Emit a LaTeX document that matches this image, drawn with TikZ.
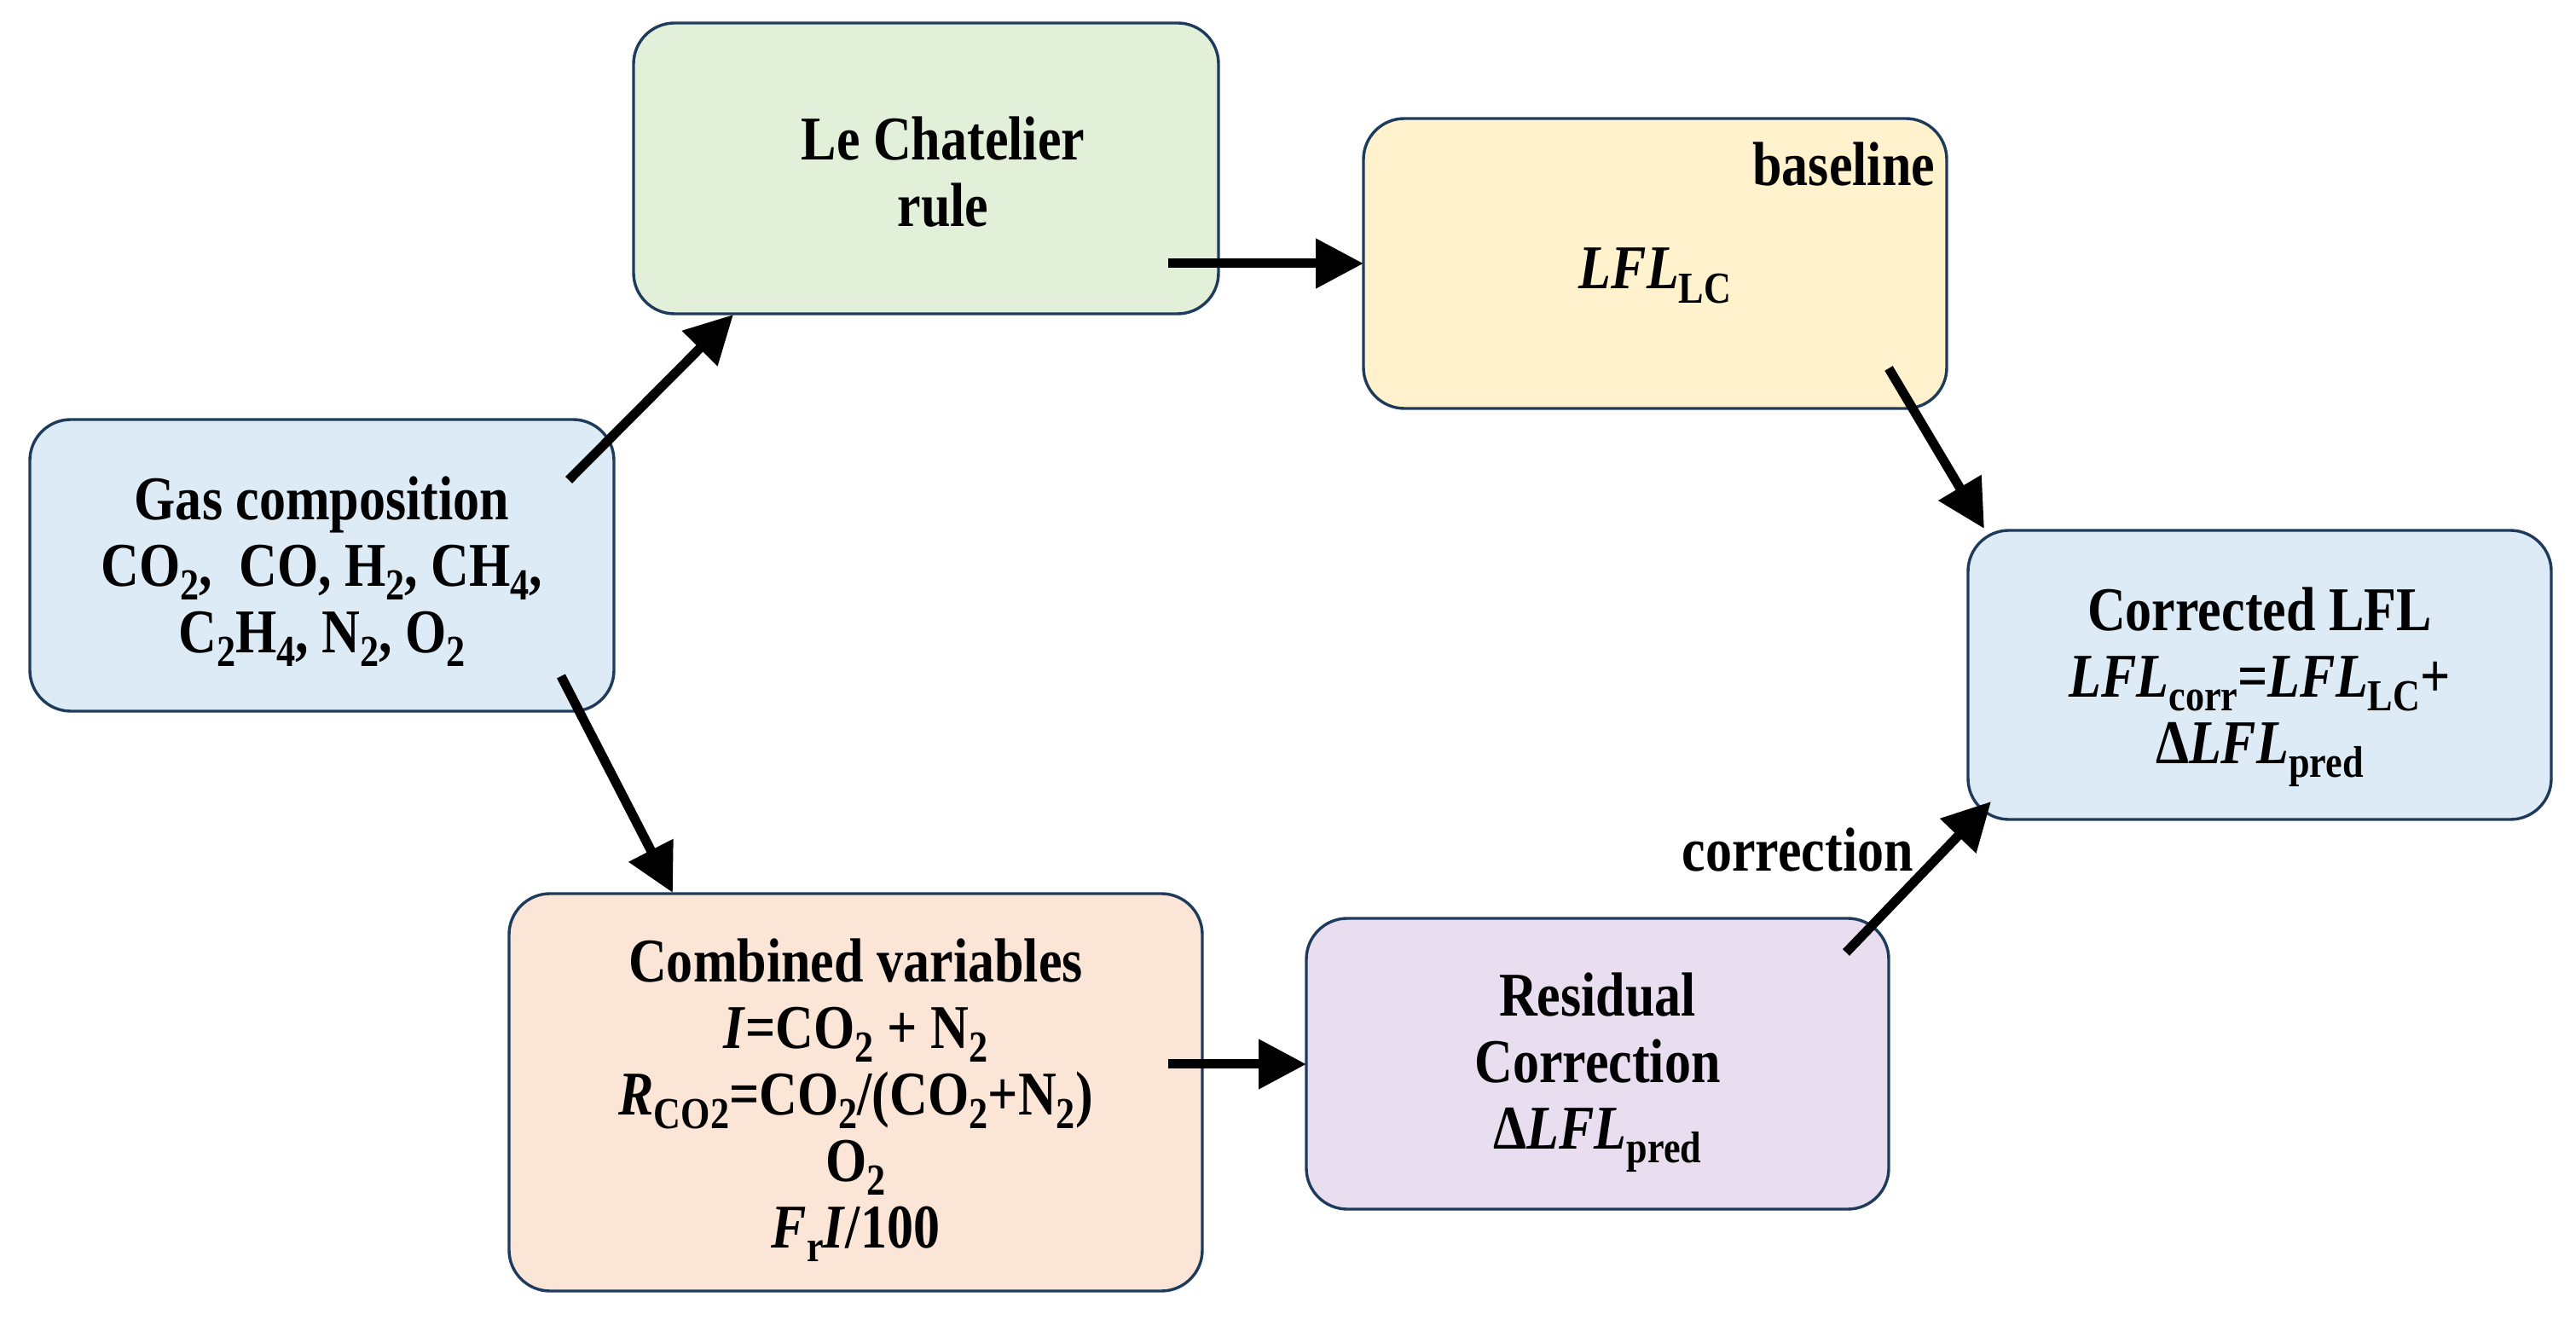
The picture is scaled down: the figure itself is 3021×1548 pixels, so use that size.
\documentclass[tikz,border=0pt]{standalone}
\usepackage{fontspec}
\setmainfont{Liberation Serif}[FakeStretch=0.85]
\usetikzlibrary{arrows.meta,calc}
\newcommand\mysub[1]{\raisebox{-0.22em}{\fontsize{13pt}{13pt}\selectfont #1}}
\newcommand\myit[1]{\textit{#1}}
\definecolor{navy}{HTML}{1F3B5C}
\definecolor{fblue}{HTML}{DDEBF7}
\definecolor{fgreen}{HTML}{E2F0D9}
\definecolor{fyellow}{HTML}{FFF2CC}
\definecolor{forange}{HTML}{FBE5D6}
\definecolor{fpurple}{HTML}{E8DEF0}
\begin{document}
\begin{tikzpicture}[x=0.25pt,y=-0.25pt,
  box/.style={draw=navy, line width=0.85pt, rounded corners=12pt, inner sep=0pt, outer sep=0pt},
  txt/.style={font=\bfseries\fontsize{18.25pt}{19.5pt}\selectfont, align=center, inner sep=0pt},
  arr/.style={line width=2.75pt, -{Triangle[length=14pt,width=14pt]}}]
\useasboundingbox (0,0) rectangle (3021,1548);
% boxes
\node[box, fill=fblue, minimum width=171.25pt, minimum height=85.5pt] (gas) at (377.5,663) {};
\node[box, fill=fgreen, minimum width=171.5pt, minimum height=85.25pt] (lc) at (1086,197.5) {};
\node[box, fill=fyellow, minimum width=171pt, minimum height=85pt] (base) at (1941,309) {};
\node[box, fill=fblue, minimum width=171pt, minimum height=84.75pt] (corr) at (2650,791.5) {};
\node[box, fill=forange, minimum width=203.25pt, minimum height=116.5pt] (comb) at (1003.5,1281) {};
\node[box, fill=fpurple, minimum width=170.75pt, minimum height=85.25pt] (res) at (1873.5,1247.5) {};
% texts
\node[txt] (gast) at (377.5,670) {Gas composition\\CO\mysub{2},\ \ CO, H\mysub{2}, CH\mysub{4},\\C\mysub{2}H\mysub{4}, N\mysub{2}, O\mysub{2}};
\node[txt] (lct) at (1106,202) {Le Chatelier\\rule};
\node[txt, anchor=base east] (baset) at (2270,218) {baseline};
\node[txt, anchor=base] (lfllc) at (1941,339) {\myit{LFL}\mysub{LC}};
\node[txt] (corrt) at (2650,806) {Corrected LFL\\\myit{LFL}\mysub{corr}=\myit{LFL}\mysub{LC}+\\Δ\myit{LFL}\mysub{pred}};
\node[txt] (combt) at (1003.5,1290) {Combined variables\\\myit{I}=CO\mysub{2} + N\mysub{2}\\\myit{R}\mysub{CO2}=CO\mysub{2}/(CO\mysub{2}+N\mysub{2})\\O\mysub{2}\\\myit{F}\mysub{r}\myit{I}/100};
\node[txt] (rest) at (1873.5,1258) {Residual\\Correction\\Δ\myit{LFL}\mysub{pred}};
\node[txt, anchor=base west] (corrlab) at (1972,1022) {correction};
% arrows
\draw[arr] ($(gas.north east)+(-53,71)$) -- ($(lc.south west)+(117,1)$);
\draw[arr] ($(gas.south east)+(-62,-41)$) -- ($(comb.north west)+(192,-1)$);
\draw[arr] ($(lc.east)+(-59,111.5)$) -- (base.west);
\draw[arr] ($(base.south east)+(-68,-47)$) -- ($(corr.north west)+(19,-2)$);
\draw[arr] ($(comb.east)+(-40,-33)$) -- ($(res.west)+(0,0.5)$);
\draw[arr] ($(res.north east)+(-50,40)$) -- ($(corr.south west)+(27,-21)$);
\end{tikzpicture}
\end{document}
